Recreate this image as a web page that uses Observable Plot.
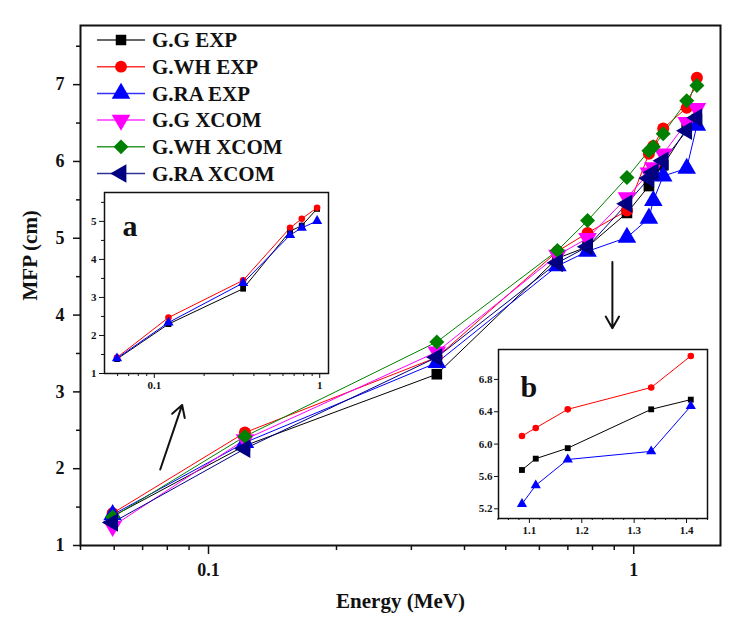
<!DOCTYPE html>
<html><head><meta charset="utf-8">
<script src="https://cdn.jsdelivr.net/npm/d3@7"></script>
<script src="https://cdn.jsdelivr.net/npm/@observablehq/plot@0.6"></script>
<style>
body{margin:0;background:#fff;}
#chart{position:relative;width:742px;height:630px;}
#chart > svg{position:absolute;overflow:visible;}
</style></head><body><div id="chart"></div>
<script>
// ---------- data ----------
const energies = [0.0595, 0.1218, 0.3443, 0.6617, 0.7789, 0.9641, 1.0858, 1.1121, 1.1732, 1.3325, 1.4081];
const seriesNames = ["G.G EXP", "G.WH EXP", "G.RA EXP", "G.G XCOM", "G.WH XCOM", "G.RA XCOM"];
const ggExp   = [1.38, 2.30, 3.23, 4.74, 4.89, 5.33, 5.68, 5.82, 5.95, 6.43, 6.55];
const gwhExp  = [1.42, 2.47, 3.45, 4.83, 5.07, 5.36, 6.10, 6.20, 6.43, 6.70, 7.09];
const graExp  = [1.40, 2.34, 3.38, 4.64, 4.83, 5.01, 5.26, 5.49, 5.81, 5.91, 6.47];
const ggXcom  = [1.25, 2.38, 3.52, 4.78, 5.00, 5.53, 5.85, 5.92, 6.10, 6.51, 6.69];
const gwhXcom = [1.37, 2.42, 3.65, 4.84, 5.23, 5.79, 6.14, 6.19, 6.36, 6.79, 6.99];
const graXcom = [1.30, 2.26, 3.45, 4.68, 4.89, 5.45, 5.78, 5.86, 6.01, 6.40, 6.57];
const seriesValues = [ggExp, gwhExp, graExp, ggXcom, gwhXcom, graXcom];
const seriesColors = ["#000000", "#ff0000", "#0000ff", "#ff00ff", "#008000", "#000080"];
const seriesSymbols = ["square", "circle", "triangle", "triangle", "square", "triangle"];
const seriesRotate = [0, 0, 0, 180, 45, -90];

const xMajorTicks = [0.1, 1];
const xMinorTicks = [0.05, 0.06, 0.07, 0.08, 0.09, 0.2, 0.3, 0.4, 0.5, 0.6, 0.7, 0.8, 0.9];
const yMajorTicks = [1, 2, 3, 4, 5, 6, 7];
const yMinorTicks = [1.5, 2.5, 3.5, 4.5, 5.5, 6.5, 7.5];

// inset a: EXP series, first six energies
const insetASeries = [0, 1, 2];
const insetACount = 6;
const insetAXTicks = [0.1, 1];
const insetAXMinor = [0.06, 0.07, 0.08, 0.09, 0.2, 0.3, 0.4, 0.5, 0.6, 0.7, 0.8, 0.9];
const insetAYTicks = [1, 2, 3, 4, 5];
const insetAYMinor = [1.5, 2.5, 3.5, 4.5, 5.5];

// inset b: EXP series, last five energies
const insetBSeries = [0, 1, 2];
const insetBStart = 6;
const insetBXTicks = [1.1, 1.2, 1.3, 1.4];
const insetBXMinor = [1.04, 1.06, 1.08, 1.12, 1.14, 1.16, 1.18, 1.22, 1.24, 1.26, 1.28, 1.32, 1.34, 1.36, 1.38, 1.42, 1.44];
const insetBYTicks = [5.2, 5.6, 6.0, 6.4, 6.8];

// annotation arrows (data units)
const arrows = [
  {x1: 0.077, y1: 1.99, x2: 0.0867, y2: 2.83},
  {x1: 0.891, y1: 4.69, x2: 0.891, y2: 3.83}
];

// ---------- build ----------
const serif = '"Liberation Serif","Times New Roman",serif';
const rows = [];
seriesNames.forEach((name, i) => energies.forEach((e, j) => rows.push({series: name, idx: i, pos: j, e, v: seriesValues[i][j]})));

function seriesMarks(idxs, filter, r, sw) {
  const m = [];
  idxs.forEach(i => {
    const d = rows.filter(p => p.idx === i && filter(p));
    m.push(Plot.line(d, {x: "e", y: "v", stroke: seriesColors[i], strokeWidth: sw}));
  });
  idxs.forEach(i => {
    const d = rows.filter(p => p.idx === i && filter(p));
    m.push(Plot.dot(d, {x: "e", y: "v", symbol: seriesSymbols[i], rotate: seriesRotate[i], fill: seriesColors[i], r: seriesSymbols[i] === "triangle" ? r * 1.15 : r}));
  });
  return m;
}

const chart = document.getElementById("chart");

const main = Plot.plot({
  width: 742, height: 630,
  marginLeft: 80, marginRight: 22, marginTop: 25, marginBottom: 85,
  style: {fontFamily: serif, fontWeight: "bold", fontSize: "18px", color: "#111", background: "transparent"},
  x: {type: "log", domain: [0.05, 1.6]},
  y: {domain: [1, 7.77]},
  marks: [
    Plot.axisX(xMajorTicks, {tickSize: 9, tickPadding: 9, tickFormat: d => String(d), label: null, strokeWidth: 1.5}),
    Plot.axisX(xMinorTicks, {tickSize: 5, tickFormat: () => "", label: null, strokeWidth: 1.5}),
    Plot.axisY(yMajorTicks, {tickSize: 7, tickPadding: 9, tickFormat: d => String(d), label: null, strokeWidth: 1.5}),
    Plot.axisY(yMinorTicks, {tickSize: 4, tickFormat: () => "", label: null, strokeWidth: 1.5}),
    ...seriesMarks([0, 1, 2, 3, 4, 5], () => true, 6, 1),
    Plot.arrow(arrows, {x1: "x1", y1: "y1", x2: "x2", y2: "y2", stroke: "#111", strokeWidth: 2, headLength: 10}),
    Plot.frame({stroke: "#111", strokeWidth: 2}),
    Plot.text(["Energy (MeV)"], {frameAnchor: "bottom", dy: 62, fontSize: 21, fill: "#111"}),
    Plot.text(["MFP (cm)"], {frameAnchor: "left", dx: -50, dy: 15, rotate: -90, fontSize: 21, fill: "#111"})
  ]
});
main.style.left = "0px"; main.style.top = "0px";
chart.appendChild(main);

const insetA = Plot.plot({
  width: 250, height: 207,
  marginLeft: 22, marginRight: 4, marginTop: 4, marginBottom: 22,
  style: {fontFamily: serif, fontWeight: "bold", fontSize: "11px", color: "#111", background: "transparent"},
  x: {type: "log", domain: [0.05, 1.13]},
  y: {domain: [1, 5.76]},
  marks: [
    Plot.frame({fill: "white", stroke: "none"}),
    Plot.axisX(insetAXTicks, {tickSize: 5, tickPadding: 3, tickFormat: d => String(d), label: null}),
    Plot.axisX(insetAXMinor, {tickSize: 3, tickFormat: () => "", label: null}),
    Plot.axisY(insetAYTicks, {tickSize: 5, tickPadding: 3, tickFormat: d => String(d), label: null}),
    Plot.axisY(insetAYMinor, {tickSize: 3, tickFormat: () => "", label: null}),
    ...seriesMarks(insetASeries, p => p.pos < insetACount, 3.3, 1),
    Plot.text(["a"], {frameAnchor: "top-left", dx: 18, dy: 22, fontSize: 30, fill: "#111"}),
    Plot.frame({stroke: "#111", strokeWidth: 1.5})
  ]
});
insetA.style.left = "82px"; insetA.style.top = "188px";
chart.appendChild(insetA);

const insetB = Plot.plot({
  width: 242, height: 197,
  marginLeft: 28, marginRight: 5, marginTop: 4, marginBottom: 24,
  style: {fontFamily: serif, fontWeight: "bold", fontSize: "11px", color: "#111", background: "transparent"},
  x: {domain: [1.041, 1.44]},
  y: {domain: [5.08, 7.17]},
  marks: [
    Plot.frame({fill: "white", stroke: "none"}),
    Plot.axisX(insetBXTicks, {tickSize: 5, tickPadding: 3, tickFormat: d3.format(".1f"), label: null}),
    Plot.axisX(insetBXMinor, {tickSize: 2, tickFormat: () => "", label: null}),
    Plot.axisY(insetBYTicks, {tickSize: 4, tickPadding: 2, tickFormat: d3.format(".1f"), label: null}),
    ...seriesMarks(insetBSeries, p => p.pos >= insetBStart, 3.3, 1),
    Plot.text(["b"], {frameAnchor: "top-left", dx: 22, dy: 26, fontSize: 30, fill: "#111"}),
    Plot.frame({stroke: "#111", strokeWidth: 1.5})
  ]
});
insetB.style.left = "470px"; insetB.style.top = "345px";
chart.appendChild(insetB);

// legend
const leg = d3.create("svg").attr("width", 320).attr("height", 200).style("left", "0px").style("top", "0px");
const symType = {square: d3.symbolSquare, circle: d3.symbolCircle, triangle: d3.symbolTriangle};
seriesNames.forEach((name, i) => {
  const y = 40 + i * 26.7;
  leg.append("line").attr("x1", 97).attr("x2", 145).attr("y1", y).attr("y2", y)
    .attr("stroke", seriesColors[i]).attr("stroke-width", 1.5).attr("opacity", 0.8);
  const size = seriesSymbols[i] === "triangle" ? 150 : 110;
  leg.append("path").attr("d", d3.symbol(symType[seriesSymbols[i]], size)())
    .attr("transform", `translate(121,${y}) rotate(${seriesRotate[i]})`)
    .attr("fill", seriesColors[i]);
  leg.append("text").attr("x", 152).attr("y", y).attr("dy", "0.35em")
    .attr("font-family", serif).attr("font-weight", "bold").attr("font-size", 21)
    .attr("fill", "#111").text(name);
});
chart.appendChild(leg.node());
</script>
</body></html>
